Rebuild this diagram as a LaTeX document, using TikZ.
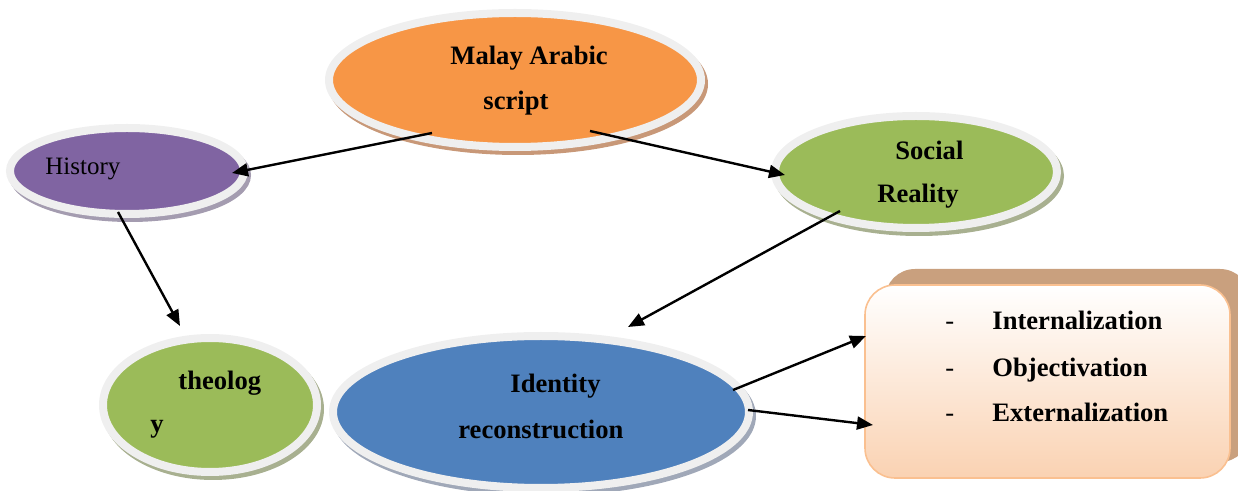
\documentclass[tikz,border=0pt]{standalone}
\usepackage{fontspec}
\setmainfont{Liberation Serif}
\usetikzlibrary{shapes.geometric,arrows.meta,calc}
\definecolor{malayfill}{HTML}{F79646}
\definecolor{malayshade}{HTML}{C89878}
\definecolor{histfill}{HTML}{8064A2}
\definecolor{histshade}{HTML}{A49CB0}
\definecolor{greenfill}{HTML}{9BBB59}
\definecolor{greenshade}{HTML}{A8B090}
\definecolor{idfill}{HTML}{4F81BD}
\definecolor{idshade}{HTML}{A0A8B8}
\definecolor{rimgray}{HTML}{EFEFEF}
\definecolor{boxedge}{HTML}{FAC090}
\definecolor{boxpeach}{HTML}{FAD2B2}
\definecolor{boxback}{HTML}{C9A07E}
\tikzset{
	bubble/.style 2 args={ellipse, fill=#1, draw=rimgray, line width=4pt, inner sep=0pt,
		preaction={fill=#2, draw=#2, transform canvas={shift={(1.5pt,-2pt)}}}},
	link/.style={line width=1.2pt, -{Triangle[length=8pt,width=6.5pt]}},
	txt/.style={font=\bfseries\fontsize{13.3}{16}\selectfont, anchor=base west, inner sep=0pt},
}
\begin{document}
	\begin{tikzpicture}[x=0.5pt,y=-0.5pt]
		\useasboundingbox (0,0) rectangle (1238,491);
		% ellipses
		\node[bubble={malayfill}{malayshade}, minimum width=186pt, minimum height=67pt] (malay) at (515,80) {};
		\node[bubble={histfill}{histshade}, minimum width=117pt, minimum height=43pt] (history) at (127,171) {};
		\node[bubble={greenfill}{greenshade}, minimum width=141pt, minimum height=56pt] (social) at (916,172) {};
		\node[bubble={greenfill}{greenshade}, minimum width=107pt, minimum height=67pt] (theology) at (210,405) {};
		\node[bubble={idfill}{idshade}, minimum width=208pt, minimum height=76pt] (identity) at (541,412) {};
		% box with its back
		\fill[boxback, rounded corners=15pt] (885,269) rectangle (1250,462);
		\node[draw=boxedge, line width=0.8pt, rounded corners=15pt, top color=white, bottom color=boxpeach,
			minimum width=182.5pt, minimum height=96.5pt, inner sep=0pt] (box) at (1047.5,381.5) {};
		% texts
		\foreach \x/\y/\t in {450/65/Malay Arabic, 483/110/script, 895/160/Social, 877/203/Reality,
			178/390/theolog, 150/433/y, 510/393/Identity, 458/439/reconstruction,
			992/330/Internalization, 992/377/Objectivation, 992/422/Externalization}{
			\node[txt] at (\x,\y) {\t};
		}
		\foreach \y in {330,377,422}{
			\node[txt, font=\fontsize{13.3}{16}\selectfont] at (945,\y) {-};
		}
		\node[txt, font=\fontsize{12.5}{15}\selectfont] at (45,175) {History};
		% arrows
		\draw[link] ($(malay)+(-83,53)$) -- ($(history)+(105,2)$);
		\draw[link] ($(malay)+(75,51)$) -- ($(social)+(-131,3)$);
		\draw[link] ($(history)+(-9,41)$) -- ($(theology)+(-30,-79)$);
		\draw[link] ($(social)+(-76,39)$) -- ($(identity)+(87,-85)$);
		\draw[link] ($(identity)+(192,-22)$) -- ($(box)+(-181.5,-45.5)$);
		\draw[link] ($(identity)+(207,-2)$) -- ($(box)+(-174.5,43.5)$);
	\end{tikzpicture}
\end{document}
